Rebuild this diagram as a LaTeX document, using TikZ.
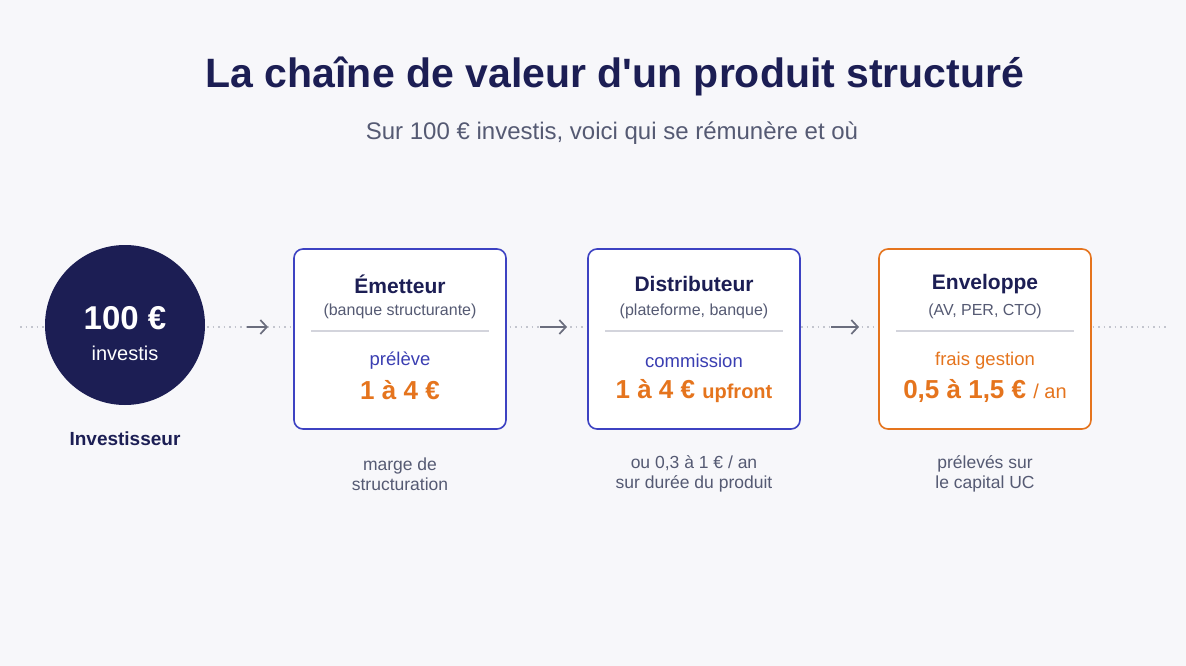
\documentclass[tikz,border=0pt]{standalone}
\usepackage{fontspec}
\setmainfont{Liberation Sans}
\usetikzlibrary{arrows.meta}
\definecolor{bg}{HTML}{F7F7FA}
\definecolor{navy}{HTML}{1C1E54}
\definecolor{bluebd}{HTML}{3D42C2}
\definecolor{bluetx}{HTML}{3A3EB2}
\definecolor{orng}{HTML}{E5741D}
\definecolor{graytx}{HTML}{555A73}
\definecolor{sepc}{HTML}{D3D4DC}
\definecolor{dotc}{HTML}{C3C5CE}
\definecolor{arrc}{HTML}{6A6D7D}
\newcommand{\fs}[1]{\fontsize{#1}{#1}\selectfont}
\tikzset{
  card/.style={draw=#1, line width=1.6pt, fill=white, rounded corners=9pt,
    minimum width=212pt, minimum height=180pt, inner sep=0pt},
  ttl/.style={text=navy, font=\fs{21}\bfseries, inner sep=0pt},
  sub/.style={text=graytx, font=\fs{16}, inner sep=0pt},
  lbl/.style={font=\fs{18.5}, inner sep=0pt},
  val/.style={text=orng, font=\fs{26}\bfseries, inner sep=0pt},
  note/.style={text=graytx, font=\fs{17.5}, align=center, inner sep=0pt},
  flow/.style={-{Straight Barb[length=6.5pt,width=14pt,line width=1.7pt]}, draw=arrc, line width=1.7pt},
  dotl/.style={draw=dotc, line width=1.4pt, dash pattern=on 1.5pt off 4pt}
}
\begin{document}
\begin{tikzpicture}[x=1pt,y=-1pt]
\fill[bg] (0,0) rectangle (1186,666);
\useasboundingbox (0,0) rectangle (1186,666);
% title
\node[text=navy, font=\fs{41}\bfseries, inner sep=0pt] (title) at (615,76) {La chaîne de valeur d\textquotesingle un produit structuré};
\node[text=graytx, font=\fs{24}, inner sep=0pt] (subtitle) at (612,133) {Sur 100 € investis, voici qui se rémunère et où};
% dotted axis
\coordinate (L) at (20,327);
\coordinate (R) at (1166,327);
\draw[dotl] (L) -- (R);
% investor
\node[circle, fill=navy, minimum size=160pt, inner sep=0pt] (inv) at (125,325) {};
\node[text=white, font=\fs{33}\bfseries, inner sep=0pt] (invv) at (125,318) {100 €};
\node[text=white, font=\fs{20}, inner sep=0pt] (invt) at (125,353) {investis};
\node[text=navy, font=\fs{19}\bfseries, inner sep=0pt] (invl) at (125,439) {Investisseur};
% cards
\node[card=bluebd] (c1) at (400,339) {};
\node[card=bluebd] (c2) at (694,339) {};
\node[card=orng] (c3) at (985,339) {};
% card 1
\node[ttl] (t1) at (400,284) {Émetteur};
\node[sub] (s1) at (400,311) {(banque structurante)};
\coordinate (a1) at (311,331); \coordinate (b1) at (489,331);
\draw[sepc, line width=1.2pt] (a1) -- (b1);
\node[lbl, text=bluetx] (l1) at (400,361) {prélève};
\node[val] (v1) at (400,390) {1 à 4 €};
\node[note] (n1) at (400,474) {marge de\\[3pt]structuration};
% card 2
\node[ttl] (t2) at (694,284) {Distributeur};
\node[sub] (s2) at (694,311) {(plateforme, banque)};
\coordinate (a2) at (605,331); \coordinate (b2) at (783,331);
\draw[sepc, line width=1.2pt] (a2) -- (b2);
\node[lbl, text=bluetx] (l2) at (694,361) {commission};
\node[val] (v2) at (694,391) {1 à 4 € {\fs{20}upfront}};
\node[note] (n2) at (694,474) {ou 0,3 à 1 € / an\\[3pt]sur durée du produit};
% card 3
\node[ttl] (t3) at (985,284) {Enveloppe};
\node[sub] (s3) at (985,311) {(AV, PER, CTO)};
\coordinate (a3) at (896,331); \coordinate (b3) at (1074,331);
\draw[sepc, line width=1.2pt] (a3) -- (b3);
\node[lbl, text=orng] (l3) at (985,361) {frais gestion};
\node[val] (v3) at (985,391) {0,5 à 1,5 € {\fs{20}\mdseries / an}};
\node[note] (n3) at (985,474) {prélevés sur\\[3pt]le capital UC};
% arrows
\coordinate (p1) at (247,327); \coordinate (q1) at (268,327);
\coordinate (p2) at (540,327); \coordinate (q2) at (567,327);
\coordinate (p3) at (831,327); \coordinate (q3) at (859,327);
\draw[flow] (p1) -- (q1);
\draw[flow] (p2) -- (q2);
\draw[flow] (p3) -- (q3);
\end{tikzpicture}
\end{document}
